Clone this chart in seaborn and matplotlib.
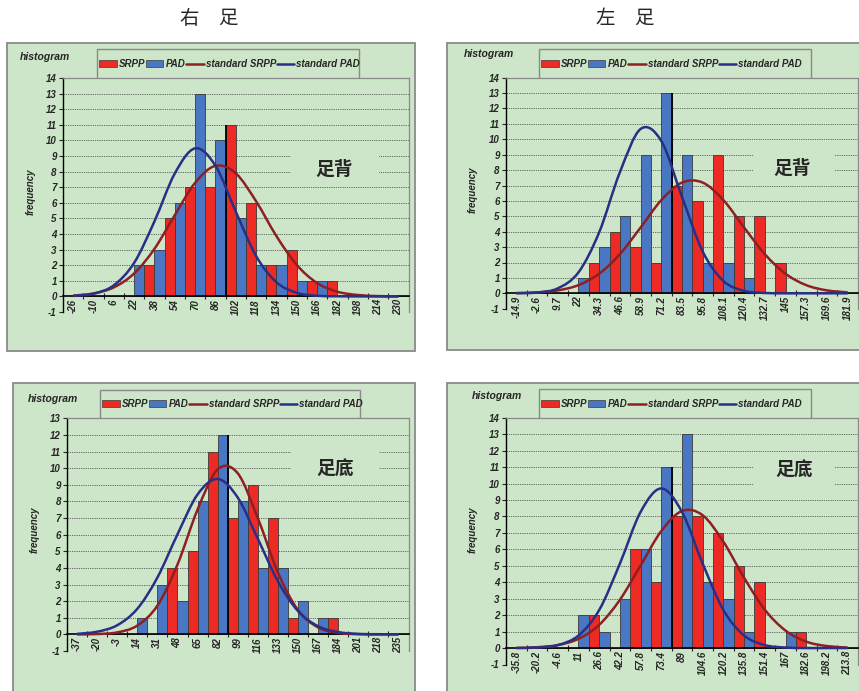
import numpy as np
import pandas as pd
import matplotlib
matplotlib.use("Agg")
import matplotlib.pyplot as plt
import seaborn as sns
from matplotlib.patches import Rectangle, PathPatch, Patch
from matplotlib.lines import Line2D
from matplotlib.path import Path

# right foot, dorsum
labels_r_dorsum = ['-26', '-10', '6', '22', '38', '54', '70', '86', '102', '118',
                   '134', '150', '166', '182', '198', '214', '230']
srpp_r_dorsum = [0, 0, 0, 2, 5, 7, 7, 11, 6, 2, 3, 1, 1, 0, 0, 0, 0]
pad_r_dorsum = [0, 0, 0, 2, 3, 6, 13, 10, 5, 2, 2, 1, 1, 0, 0, 0, 0]
srpp_fit_r_dorsum = [0.05, 0.19, 0.58, 1.47, 3.05, 5.21, 7.28, 8.37, 7.89, 6.10,
                     3.87, 2.02, 0.86, 0.30, 0.09, 0.02, 0.0]
pad_fit_r_dorsum = [0.03, 0.17, 0.71, 2.15, 4.81, 7.88, 9.49, 8.38, 5.44, 2.59,
                    0.91, 0.23, 0.04, 0.01, 0.0, 0.0, 0.0]

# left foot, dorsum
labels_l_dorsum = ['-14.9', '-2.6', '9.7', '22', '34.3', '46.6', '58.9', '71.2', '83.5',
                   '95.8', '108.1', '120.4', '132.7', '145', '157.3', '169.6', '181.9']
srpp_l_dorsum = [0, 0, 0, 2, 4, 3, 2, 7, 6, 9, 5, 5, 2, 0, 0, 0, 0]
pad_l_dorsum = [0, 0, 0, 1, 3, 5, 9, 13, 9, 2, 2, 1, 0, 0, 0, 0, 0]
srpp_fit_l_dorsum = [0.01, 0.06, 0.19, 0.53, 1.27, 2.54, 4.27, 6.05, 7.19, 7.19,
                     6.05, 4.27, 2.54, 1.27, 0.53, 0.19, 0.06]
pad_fit_l_dorsum = [0.01, 0.05, 0.32, 1.36, 3.96, 7.86, 10.67, 9.89, 6.26, 2.71,
                    0.80, 0.16, 0.02, 0.0, 0.0, 0.0, 0.0]

# right foot, plantar
labels_r_plantar = ['-37', '-20', '-3', '14', '31', '48', '65', '82', '99', '116',
                    '133', '150', '167', '184', '201', '218', '235']
srpp_r_plantar = [0, 0, 0, 0, 4, 5, 11, 7, 9, 7, 1, 0, 1, 0, 0, 0, 0]
pad_r_plantar = [0, 0, 0, 1, 3, 2, 8, 12, 8, 4, 4, 2, 1, 0, 0, 0, 0]
srpp_fit_r_plantar = [0.0, 0.02, 0.12, 0.53, 1.73, 4.20, 7.51, 9.93, 9.69, 6.99,
                      3.72, 1.46, 0.42, 0.09, 0.01, 0.0, 0.0]
pad_fit_r_plantar = [0.03, 0.16, 0.55, 1.54, 3.42, 6.02, 8.42, 9.35, 8.23, 5.75,
                     3.19, 1.40, 0.49, 0.14, 0.03, 0.01, 0.0]

# left foot, plantar
labels_l_plantar = ['-35.8', '-20.2', '-4.6', '11', '26.6', '42.2', '57.8', '73.4', '89',
                    '104.6', '120.2', '135.8', '151.4', '167', '182.6', '198.2', '213.8']
srpp_l_plantar = [0, 0, 0, 2, 0, 6, 4, 8, 8, 7, 5, 4, 0, 1, 0, 0, 0]
pad_l_plantar = [0, 0, 0, 2, 1, 3, 6, 11, 13, 4, 3, 1, 0, 1, 0, 0, 0]
srpp_fit_l_plantar = [0.01, 0.05, 0.18, 0.56, 1.41, 2.93, 5.02, 7.11, 8.33, 8.07,
                      6.46, 4.27, 2.33, 1.06, 0.39, 0.12, 0.03]
pad_fit_l_plantar = [0.0, 0.03, 0.18, 0.76, 2.31, 5.13, 8.27, 9.70, 8.27, 5.13,
                     2.31, 0.76, 0.18, 0.03, 0.0, 0.0, 0.0]

W, H = 859, 691
BG = '#CDE5C8'
RED = '#EE2A25'
BLUE = '#4A77C4'
DRED = '#8E1F22'
NAVY = '#2A2F86'
FRAME = '#8A8A8A'

sns.set_style('white')
plt.rcParams['font.family'] = ['Liberation Sans', 'Noto Sans CJK SC']

fig = plt.figure(figsize=(W / 100, H / 100), dpi=100)
fig.patch.set_facecolor('white')


def fx(x):
    return x / W


def fy(y):
    return 1 - y / H


def smooth_path(xs, ys):
    # excel style smoothed line: catmull-rom segments as cubic beziers
    pts = np.column_stack([xs, ys]).astype(float)
    n = len(pts)
    verts = [pts[0]]
    codes = [Path.MOVETO]
    for i in range(n - 1):
        p0 = pts[max(i - 1, 0)]
        p1 = pts[i]
        p2 = pts[i + 1]
        p3 = pts[min(i + 2, n - 1)]
        verts += [p1 + (p2 - p0) / 6, p2 - (p3 - p1) / 6, p2]
        codes += [Path.CURVE4] * 3
    return Path(verts, codes)


bi = dict(weight='bold', style='italic')


def draw_panel(p, labels, srpp, pad, srpp_fit, pad_fit, site):
    l, t, r, b = p['frame']
    fig.add_artist(Rectangle((fx(l), fy(b)), (r - l) / W, (b - t) / H,
                             transform=fig.transFigure, fc=BG, ec=FRAME, lw=1.3, zorder=-2))
    pl, pt, pr, pb = p['plot']
    # legend box, bottom part hidden behind plot area
    lx0, ly0, lx1 = p['legend_box']
    fig.add_artist(Rectangle((fx(lx0), fy(pt + 8)), (lx1 - lx0) / W, (pt + 8 - ly0) / H,
                             transform=fig.transFigure, fc=BG, ec=FRAME, lw=1.0, zorder=-1))

    ax = fig.add_axes([fx(pl), fy(pb), (pr - pl) / W, (pb - pt) / H])
    ax.set_facecolor(BG)
    ymax = p['ymax']
    n = len(labels)
    k = np.arange(n)

    for v in range(1, ymax + 1):
        ax.axhline(v, color='#5A5A5A', lw=0.6, ls=(0, (1.5, 1.2)), zorder=1)
    mx0, mx1, my0, my1 = p['mask']
    ax.add_patch(Rectangle((mx0, my0), mx1 - mx0, my1 - my0, fc=BG, ec='none', zorder=1.5))

    df = pd.DataFrame({
        'pos': np.concatenate([k + 0.5, k + 0.5]),
        'freq': list(pad) + list(srpp),
        'series': ['PAD'] * n + ['SRPP'] * n,
    })
    sns.barplot(data=df, x='pos', y='freq', hue='series', hue_order=['PAD', 'SRPP'],
                palette={'PAD': BLUE, 'SRPP': RED}, native_scale=True, width=1.0,
                dodge=True, errorbar=None, saturation=1, edgecolor='#3A3A3A',
                linewidth=0.6, legend=False, ax=ax, zorder=2)
    ax.vlines(7.5, 0, max(pad[7], srpp[7]), color='black', lw=1.3, zorder=2.5)

    ax.add_patch(PathPatch(smooth_path(k, srpp_fit), fill=False, ec=DRED, lw=1.8, zorder=3))
    ax.add_patch(PathPatch(smooth_path(k, pad_fit), fill=False, ec=NAVY, lw=1.8, zorder=3))

    tx, ty = p['site_xy']
    ax.text(tx, ty, site, fontsize=13.5, fontweight='bold', ha='center', va='center',
            family=['Noto Sans CJK SC'], zorder=4)

    ax.set_xlim(-0.5, n - 0.5)
    ax.set_ylim(-1, ymax)
    ax.set_xlabel('')
    ax.set_ylabel('')
    ax.spines['bottom'].set_position(('data', 0))
    ax.spines['bottom'].set_color('black')
    ax.spines['bottom'].set_linewidth(1.2)
    ax.spines['left'].set_color('black')
    ax.spines['left'].set_linewidth(1.0)
    for s in ['top', 'right']:
        ax.spines[s].set_visible(True)
        ax.spines[s].set_color(FRAME)
        ax.spines[s].set_linewidth(0.9)

    ax.set_xticks(k[:-1] + 0.5)
    ax.set_xticklabels([])
    ax.set_xticks(k, minor=True)
    ax.set_xticklabels(labels, minor=True, rotation=90, fontsize=7, **bi)
    ax.tick_params(axis='x', which='major', direction='inout', length=5, width=0.8,
                   bottom=True, labelbottom=False)
    ax.tick_params(axis='x', which='minor', length=0, pad=2, bottom=True)
    ax.set_yticks(range(-1, ymax + 1))
    ax.set_yticklabels([str(v) for v in range(-1, ymax + 1)], fontsize=7, **bi)
    ax.tick_params(axis='y', direction='out', length=3, width=0.8, pad=1.5, left=True)
    ax.grid(False)

    hx, hy = p['hist']
    fig.text(fx(hx), fy(hy), 'histogram', ha='left', va='center', fontsize=7.5, **bi)
    qx, qy = p['freq']
    fig.text(fx(qx), fy(qy), 'frequency', ha='center', va='center', rotation=90,
             fontsize=7, **bi)

    handles = [Patch(fc=RED, ec='#3A3A3A', lw=0.5), Patch(fc=BLUE, ec='#3A3A3A', lw=0.5),
               Line2D([], [], color=DRED, lw=1.8), Line2D([], [], color=NAVY, lw=1.8)]
    fig.legend(handles, ['SRPP', 'PAD', 'standard SRPP', 'standard PAD'],
               loc='center left', bbox_to_anchor=(fx(lx0 + 2), fy(p['legend_y'])),
               ncol=4, frameon=False, prop=dict(family='Liberation Sans', size=7, **bi),
               handlelength=1.8, handleheight=0.6, handletextpad=0.2,
               columnspacing=0.1, borderpad=0, borderaxespad=0)
    return ax


panels = [
    dict(frame=(7, 43, 415, 351), plot=(63, 78, 408.5, 312), ymax=14,
         legend_box=(97, 49, 359), legend_y=64, hist=(20, 57), freq=(31, 192),
         mask=(10.72, 15.05, 7.4, 9.6), site_xy=(12.84, 8.15)),
    dict(frame=(447, 43, 880, 350), plot=(506, 77.7, 858, 308.7), ymax=14,
         legend_box=(539, 49, 811), legend_y=64, hist=(464, 54), freq=(473, 190),
         mask=(11.48, 15.35, 7.4, 9.6), site_xy=(13.3, 8.1)),
    dict(frame=(13, 383, 415, 700), plot=(67, 418.3, 408.5, 651), ymax=13,
         legend_box=(100, 390, 360), legend_y=404, hist=(28, 399), freq=(35, 530),
         mask=(10.65, 15.03, 9.3, 11.6), site_xy=(12.84, 9.95)),
    dict(frame=(447, 383, 880, 700), plot=(506, 417.7, 858, 664.5), ymax=14,
         legend_box=(539, 389, 811), legend_y=404, hist=(472, 396), freq=(473, 530),
         mask=(11.48, 15.35, 9.4, 11.6), site_xy=(13.4, 10.8)),
]

draw_panel(panels[0], labels_r_dorsum, srpp_r_dorsum, pad_r_dorsum,
           srpp_fit_r_dorsum, pad_fit_r_dorsum, '足背')
draw_panel(panels[1], labels_l_dorsum, srpp_l_dorsum, pad_l_dorsum,
           srpp_fit_l_dorsum, pad_fit_l_dorsum, '足背')
draw_panel(panels[2], labels_r_plantar, srpp_r_plantar, pad_r_plantar,
           srpp_fit_r_plantar, pad_fit_r_plantar, '足底')
draw_panel(panels[3], labels_l_plantar, srpp_l_plantar, pad_l_plantar,
           srpp_fit_l_plantar, pad_fit_l_plantar, '足底')

fig.text(fx(209), fy(19), '右\u3000足', ha='center', va='center', fontsize=14,
         family=['Noto Sans CJK SC'])
fig.text(fx(625), fy(18), '左\u3000足', ha='center', va='center', fontsize=14,
         family=['Noto Sans CJK SC'])

fig.savefig('out.png', dpi=100, facecolor='white')
plt.close(fig)
